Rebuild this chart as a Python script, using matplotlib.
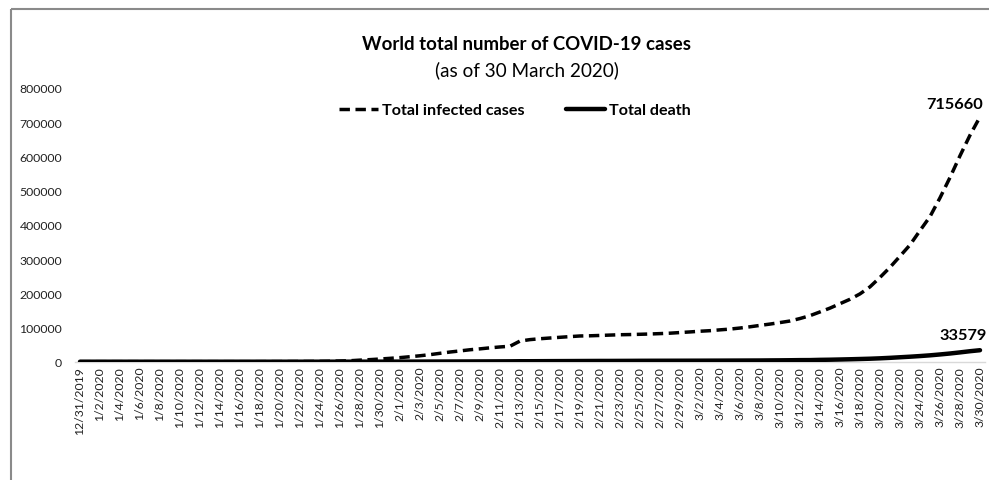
import matplotlib
matplotlib.use("Agg")
import matplotlib.pyplot as plt
from matplotlib.lines import Line2D
import pandas as pd

# Daily cumulative world totals, 31 Dec 2019 – 30 Mar 2020
dates = pd.date_range("2019-12-31", "2020-03-30", freq="D")
date_labels = [f"{d.month}/{d.day}/{d.year}" for d in dates]

total_cases = [
    27,
    27, 27, 44, 44, 59, 59, 59, 59, 59, 59, 59, 59, 60, 60, 61, 61, 66, 83, 219, 239,
    392, 534, 631, 897, 1350, 2023, 2820, 4587, 6067, 7823, 9826,
    11946, 14554, 17372, 20615, 24522, 28273, 31491, 34933, 37552, 40540, 43105, 45177,
    60328, 64543, 67103, 69265, 71332, 73327, 75191, 75723, 76719, 77804, 78812, 79339,
    80132, 80995, 82101, 83365, 85203,
    87024, 89068, 90664, 93091, 95324, 98425, 102050, 106099, 109991, 114381, 118948,
    126214, 134576, 145483, 156653, 169593, 182490, 198234, 218822, 246417, 275875,
    308464, 341365, 383245, 424103, 478998, 538451, 601921, 662073, 715660,
]

total_deaths = [
    0,
    0, 0, 0, 0, 0, 0, 0, 0, 0, 0, 1, 1, 1, 1, 1, 1, 2, 2, 3, 3,
    6, 9, 17, 25, 41, 56, 80, 106, 132, 170, 213,
    259, 304, 362, 426, 492, 565, 638, 724, 813, 910, 1018, 1115,
    1369, 1383, 1526, 1669, 1775, 1873, 2009, 2126, 2247, 2251, 2362, 2469,
    2629, 2708, 2770, 2814, 2872,
    2941, 2996, 3085, 3160, 3254, 3348, 3460, 3558, 3802, 3988, 4262,
    4615, 4720, 5404, 5819, 6440, 7126, 7905, 8733, 9867, 11299,
    12973, 14623, 16497, 18615, 21181, 23970, 27198, 30652, 33579,
]

y_ticks = [0, 100000, 200000, 300000, 400000, 500000, 600000, 700000, 800000]

FONT = "Lato"
W, H = 989, 481

fig = plt.figure(figsize=(W / 100, H / 100), dpi=100)
fig.patch.set_facecolor("white")

# Chart-area frame (left and top edges)
frame_kw = dict(transform=fig.transFigure, color="#8a8a8a", lw=1.5,
                solid_capstyle="butt")
fig.add_artist(Line2D([10.5 / W, 10.5 / W], [0, 1 - 9.5 / H], **frame_kw))
fig.add_artist(Line2D([10.5 / W, 1], [1 - 9.5 / H, 1 - 9.5 / H], **frame_kw))

ax = fig.add_axes([75 / W, 1 - 362.7 / H, 910 / W, 273.7 / H])
x = list(range(len(dates)))

ax.plot(x, total_cases, color="black", lw=2.5, linestyle=(0, (3.0, 1.6)),
        label="Total infected cases", zorder=3)
ax.plot(x, total_deaths, color="black", lw=3.2, solid_capstyle="round",
        label="Total death", zorder=4)

ax.set_xlim(-0.5, len(dates) - 0.5)
ax.set_ylim(0, 800000)
ax.set_yticks(y_ticks)
ax.set_yticklabels([str(v) for v in y_ticks], fontfamily=FONT, fontsize=8.8,
                   color="#222222")
ax.set_xticks(x[::2])
ax.set_xticklabels(date_labels[::2], rotation=90, fontfamily=FONT,
                   fontsize=8.8, color="#222222", va="top", ha="center")
ax.tick_params(axis="y", length=0, pad=9.2)
ax.tick_params(axis="x", length=0, pad=3)

for side in ("top", "right", "left"):
    ax.spines[side].set_visible(False)
ax.spines["bottom"].set_color("#d9d9d9")
ax.spines["bottom"].set_linewidth(1.0)

# End-point value labels
ax.annotate(f"{total_cases[-1]}", xy=(x[-1], total_cases[-1]),
            xytext=(2, 9.5), textcoords="offset points", ha="right",
            va="center", fontfamily=FONT, fontweight="bold", fontsize=11.8,
            color="black")
ax.annotate(f"{total_deaths[-1]}", xy=(x[-1], total_deaths[-1]),
            xytext=(5, 11), textcoords="offset points", ha="right",
            va="center", fontfamily=FONT, fontweight="bold", fontsize=11.8,
            color="black")

# Titles
fig.text(527 / W, 1 - 45 / H, "World total number of COVID-19 cases",
         ha="center", va="center", fontfamily=FONT, fontweight="bold",
         fontsize=13.4)
fig.text(527 / W, 1 - 70 / H, "(as of 30 March 2020)", ha="center",
         va="center", fontfamily=FONT, fontsize=13.6)

leg = ax.legend(loc="center", bbox_to_anchor=(515 / W, 1 - 111 / H),
                bbox_transform=fig.transFigure, ncol=2, frameon=False,
                prop={"family": FONT, "weight": "bold", "size": 11.6},
                handlelength=2.4, handletextpad=0.25, columnspacing=2.6,
                borderpad=0)

fig.savefig("out.png", dpi=100)
